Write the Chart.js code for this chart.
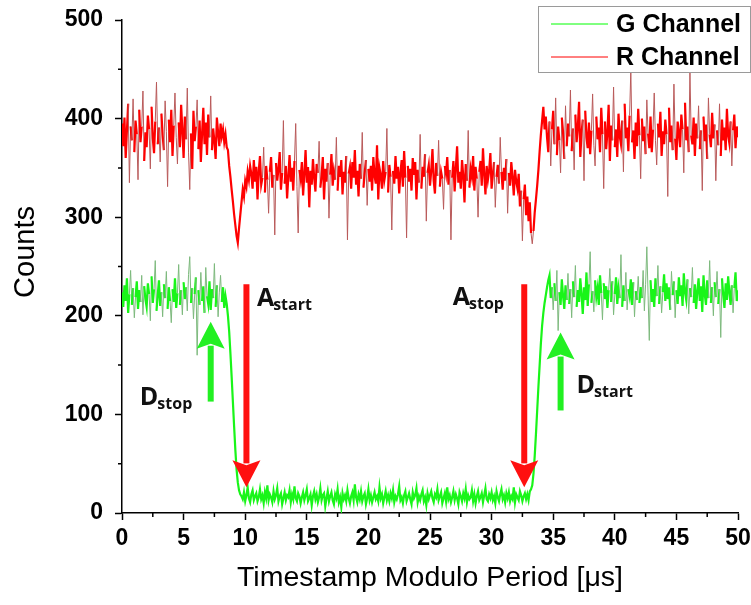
<!DOCTYPE html>
<html><head><meta charset="utf-8">
<script src="https://cdn.jsdelivr.net/npm/chart.js@4.4.1/dist/chart.umd.min.js"></script>
<style>html,body{margin:0;padding:0;background:#fff;overflow:hidden}#wrap{width:751px;height:605px}</style>
</head><body><div id="wrap"><canvas id="c" width="751" height="605"></canvas></div>
<script>
// ---- data ----
const timeStart = 0;      // µs
const timeStep = 0.1;     // µs per sample
const xTickValues = [0,5,10,15,20,25,30,35,40,45,50];
const yTickValues = [0,100,200,300,400,500];
const seriesLabels = ['G Channel','R Channel'];
const xTitle = 'Timestamp Modulo Period [\u03bcs]';
const yTitle = 'Counts';

const gChannel = [
224,209,231,215,238,203,222,246,211,228,
198,219,235,207,226,214,241,201,230,217,
209,233,222,195,240,213,227,256,205,221,
236,210,224,199,232,218,245,207,229,215,
193,227,214,238,208,223,252,211,226,201,
234,217,229,205,242,260,213,228,197,222,
239,160,226,211,244,215,230,203,249,220,
212,235,206,227,218,253,209,231,199,224,
241,214,229,208,220,
212,200,184,162,138,113,88,64,44,31,23,19,
17,14,21,12,18,26,15,11,19,23,13,17,
20,12,16,24,14,18,10,21,15,28,13,19,
16,11,22,14,18,25,12,17,20,9,15,21,
13,18,16,23,11,19,14,27,15,12,20,17,
10,16,21,13,18,24,12,15,19,8,17,22,
14,19,11,16,25,13,18,20,7,15,22,12,
17,21,13,9,19,15,24,11,16,6,20,14,
18,12,23,15,10,17,21,13,29,16,11,19,
14,22,12,17,20,9,15,24,13,18,11,16,
21,14,17,12,26,15,19,10,16,22,13,18,
12,20,15,23,11,17,14,19,27,13,16,10,
18,22,12,16,20,14,9,21,15,18,25,11,
17,13,19,23,12,16,8,20,14,18,22,15,
11,19,16,24,13,17,21,10,15,20,12,26,
14,18,11,16,22,13,19,15,9,21,17,12,
20,15,24,11,18,14,16,23,12,19,10,17,
22,13,16,20,11,18,25,14,12,19,15,21,
13,17,10,22,16,12,19,24,14,18,11,20,
15,21,12,17,14,26,11,19,16,13,22,18,
12,17,20,14,19,13,22,24,
28,40,58,80,104,128,150,172,190,203,213,221,229,236,
241,218,229,206,233,215,246,185,224,211,237,220,
207,231,216,243,212,227,198,235,219,251,209,226,
214,238,222,202,229,216,244,210,232,265,213,225,
204,236,219,228,211,241,223,196,233,217,230,208,
226,248,214,235,201,222,239,212,228,218,262,209,
231,215,244,206,227,220,237,211,234,199,225,216,
240,213,229,218,246,205,232,270,221,175,236,214,
227,209,238,220,251,212,230,203,224,242,215,233,
217,229,206,245,221,235,198,226,212,239,220,231,
210,243,224,216,237,202,228,219,249,213,232,207,
225,238,215,230,204,241,222,211,236,218,256,213,
229,200,234,219,245,212,227,178,238,221,208,233,
216,240,224,211,231,203,228,244,215,226
];

const rChannel = [
395,372,401,360,388,415,335,392,378,420,
366,398,384,338,409,376,392,428,357,386,
371,403,389,349,412,380,365,397,437,374,
391,356,405,383,368,418,387,331,399,376,
409,362,393,426,381,354,396,371,414,388,
360,402,379,431,366,328,385,349,408,377,
392,419,369,398,356,385,411,374,396,363,
404,381,423,368,390,377,359,401,386,372,
395,
382,389,376,384,371,368,352,341,328,316,303,292,281,274,289,302,315,328,321,337,331,346,338,352,
344,329,358,336,351,318,347,362,333,340,371,325,
352,338,304,346,361,330,343,282,355,337,349,366,
328,345,398,334,352,319,341,363,336,350,327,357,
395,331,284,348,339,356,322,344,368,335,351,310,
347,333,359,340,326,354,345,377,330,342,361,318,
349,336,355,299,343,364,332,347,338,381,327,352,
341,358,323,346,335,362,277,344,351,329,356,340,
368,333,347,321,354,339,386,330,345,358,312,349,
336,352,327,361,342,334,373,318,350,343,329,357,
338,346,390,325,353,341,287,347,334,362,339,351,
324,345,358,331,367,340,279,352,336,349,327,360,
343,356,318,348,335,384,329,351,341,364,296,345,
353,332,347,369,337,324,355,342,378,331,346,339,
308,352,344,361,333,348,277,340,357,326,350,372,
335,346,329,358,342,315,354,337,388,330,349,341,
362,327,351,339,300,346,357,332,370,344,323,352,
338,347,365,329,343,356,310,341,353,334,381,346,
328,350,337,359,304,345,332,356,341,322,348,336,
329,344,311,327,276,318,333,302,321,296,315,284,273,
286,305,318,332,348,367,384,398,412,389,402,
381,366,397,352,389,408,374,421,363,392,378,345,
401,386,359,413,372,395,382,429,367,390,348,404,
376,392,417,361,385,399,337,408,381,370,396,364,
388,425,373,352,402,379,391,366,411,384,329,397,
369,386,414,357,393,378,432,371,389,361,405,382,
374,398,346,415,380,391,367,403,449,376,388,359,
396,372,410,383,339,400,377,392,364,419,385,370,
402,366,389,426,378,353,395,381,407,362,387,374,
399,384,321,411,376,393,368,435,380,358,397,386,
371,404,389,345,416,378,392,366,447,383,374,401,
362,395,380,413,369,388,327,402,377,394,359,421,
384,371,406,380,394,337,388,373,415,362,399,378,
391,368,410,383,375,397,352,388,404,370,392,381
];

// annotations (data units)
const arrowMarks = [
  {x:10.1,  tail:232, tip:26,  color:'#ff1010'},
  {x:32.65, tail:232, tip:26,  color:'#ff1010'},
  {x:7.2,   tail:113, tip:194, color:'#22f022'},
  {x:35.6,  tail:104, tip:183, color:'#22f022'}
];
const arrowLabels = [
  {main:'A', sub:'start', x:10.95, y:210},
  {main:'A', sub:'stop',  x:26.85, y:211},
  {main:'D', sub:'stop',  x:1.45,  y:110},
  {main:'D', sub:'start', x:36.9,  y:122}
];

// ---- build ----
const toPts = arr => arr.map((v,i)=>({x: timeStart + i*timeStep, y: v}));
const FONT = "'Liberation Sans', Arial, sans-serif";

// styling helper: segments far from the local median (noise spikes) are drawn thin and muted
function localMedian(arr, half){
  return arr.map((_,i)=>{
    const w = arr.slice(Math.max(0,i-half), Math.min(arr.length,i+half+1)).sort((a,b)=>a-b);
    return w[Math.floor(w.length/2)];
  });
}
function spikeStyle(arr, bright, muted, limit){
  const med = localMedian(arr, 5);
  const isSpike = c => Math.max(Math.abs(arr[c.p0DataIndex]-med[c.p0DataIndex]), Math.abs(arr[c.p1DataIndex]-med[c.p1DataIndex])) > limit;
  return {
    borderColor: c => isSpike(c) ? muted : bright,
    borderWidth: c => isSpike(c) ? 1 : 2.2
  };
}

const extras = {
  id:'extras',
  afterDraw(chart){
    const ctx = chart.ctx, xs = chart.scales.x, ys = chart.scales.y;
    const a = chart.chartArea;
    ctx.save();
    // minor ticks
    ctx.strokeStyle = '#000'; ctx.lineWidth = 1.5;
    ctx.beginPath();
    for (let i=0;i<xTickValues.length-1;i++){
      const px = xs.getPixelForValue((xTickValues[i]+xTickValues[i+1])/2);
      ctx.moveTo(px, a.bottom); ctx.lineTo(px, a.bottom+4);
    }
    for (let i=0;i<yTickValues.length-1;i++){
      const py = ys.getPixelForValue((yTickValues[i]+yTickValues[i+1])/2);
      ctx.moveTo(a.left, py); ctx.lineTo(a.left-4, py);
    }
    ctx.stroke();

    // y title
    ctx.save();
    ctx.translate(26, 252);
    ctx.rotate(-Math.PI/2);
    ctx.font = "29px " + FONT;
    ctx.fillStyle = '#000'; ctx.textAlign='center'; ctx.textBaseline='middle';
    ctx.fillText(yTitle, 0, 0);
    ctx.restore();

    // arrows
    arrowMarks.forEach(m=>{
      const px = xs.getPixelForValue(m.x);
      const pt = ys.getPixelForValue(m.tail), ph = ys.getPixelForValue(m.tip);
      const dir = Math.sign(ph-pt);
      const headLen = 27, headW = 28, shaft = 6;
      const base = ph - dir*headLen;
      ctx.fillStyle = m.color;
      ctx.fillRect(px-shaft/2, Math.min(pt, base+dir*3), shaft, Math.abs(base+dir*3-pt));
      ctx.beginPath();
      ctx.moveTo(px-headW/2, base);
      ctx.lineTo(px, base+dir*5);
      ctx.lineTo(px+headW/2, base);
      ctx.lineTo(px, ph);
      ctx.closePath(); ctx.fill();
    });
    // labels
    arrowLabels.forEach(l=>{
      const px = xs.getPixelForValue(l.x), py = ys.getPixelForValue(l.y);
      ctx.fillStyle = '#111'; ctx.textAlign='left'; ctx.textBaseline='alphabetic';
      ctx.font = "bold 25px 'Open Sans', sans-serif";
      ctx.fillText(l.main, px, py);
      const w = ctx.measureText(l.main).width;
      ctx.font = "bold 16px 'Open Sans', sans-serif";
      ctx.fillText(l.sub, px+w-1, py+4);
    });

    // legend
    const lx = 538.5, ly = 6.5, lw = 212, lh = 66;
    ctx.fillStyle = '#fff'; ctx.fillRect(lx, ly, lw, lh);
    ctx.strokeStyle = '#9a9a9a'; ctx.lineWidth = 1; ctx.strokeRect(lx, ly, lw, lh);
    chart.data.datasets.forEach((ds,i)=>{
      const y = 24 + i*33;
      ctx.strokeStyle = ds.legendColor; ctx.lineWidth = 1;
      ctx.beginPath(); ctx.moveTo(551, y); ctx.lineTo(608, y); ctx.stroke();
      ctx.fillStyle = '#000'; ctx.font = "bold 25px " + FONT;
      ctx.textAlign='left'; ctx.textBaseline='middle';
      ctx.fillText(ds.label, 616, y+1);
    });
    ctx.restore();
  }
};

const axisCommon = {
  type:'linear',
  grid:{display:true, drawOnChartArea:false, drawTicks:true, tickLength:7, tickColor:'#000', tickWidth:1.5},
  border:{display:true, color:'#000', width:1.5},
};

new Chart(document.getElementById('c'), {
  type:'line',
  data:{
    datasets:[
      {label:seriesLabels[0], data:toPts(gChannel), borderColor:'rgb(0,255,0)', legendColor:'rgb(0,255,0)', borderWidth:2, pointRadius:0, tension:0,
       segment: spikeStyle(gChannel, 'rgb(25,245,25)', 'rgb(125,185,125)', 20)},
      {label:seriesLabels[1], data:toPts(rChannel), borderColor:'rgb(255,0,0)', legendColor:'rgb(255,0,0)', borderWidth:2, pointRadius:0, tension:0,
       segment: spikeStyle(rChannel, 'rgb(255,0,0)', 'rgb(185,90,90)', 30)}
    ]
  },
  options:{
    responsive:false, animation:false, devicePixelRatio:1,
    parsing:false, normalized:true,
    layout:{padding:{top:20, right:13, left:0, bottom:0}},
    plugins:{legend:{display:false}, tooltip:{enabled:false}},
    scales:{
      x:{...axisCommon, min:0, max:50,
        afterBuildTicks:s=>{ s.ticks = xTickValues.map(v=>({value:v})); },
        afterFit:s=>{ s.height = 92; s.paddingRight = 0; s.paddingLeft = 0; },
        ticks:{color:'#000', font:{family:FONT, size:23, weight:'bold'}, padding:5, maxRotation:0, autoSkip:false},
        title:{display:true, text:xTitle, color:'#000', font:{family:FONT, size:28.5}, padding:{top:0,bottom:10}}
      },
      y:{...axisCommon, min:0, max:500,
        afterBuildTicks:s=>{ s.ticks = yTickValues.map(v=>({value:v})); },
        afterFit:s=>{ s.width = 122; s.paddingTop = 0; s.paddingBottom = 0; },
        ticks:{color:'#000', font:{family:FONT, size:23, weight:'bold'}, padding:12}
      }
    }
  },
  plugins:[extras]
});
</script></body></html>
